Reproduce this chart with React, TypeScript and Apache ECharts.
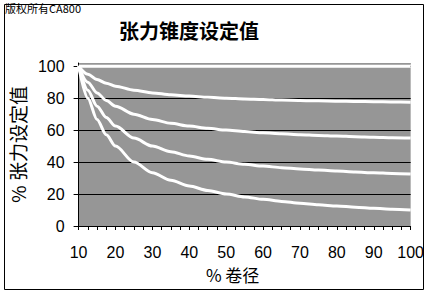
import React, { useEffect, useRef } from "react";
import * as echarts from "echarts";

const TITLE = "张力锥度设定值";
const COPYRIGHT = "版权所有CA800";
const X_NAME = "% 卷径";
const Y_NAME = "% 张力设定值";

const diameter = [10, 12.5, 15, 17.5, 20, 25, 30, 35, 40, 45, 50, 55, 60, 65, 70, 75, 80, 85, 90, 95, 100];
const taper0 = [100, 100, 100, 100, 100, 100, 100, 100, 100, 100, 100, 100, 100, 100, 100, 100, 100, 100, 100, 100, 100];
const taper25 = [100, 95, 91.7, 89.3, 87.5, 85, 83.3, 82.1, 81.3, 80.6, 80, 79.5, 79.2, 78.8, 78.6, 78.3, 78.1, 77.9, 77.8, 77.6, 77.5];
const taper50 = [100, 90, 83.3, 78.6, 75, 70, 66.7, 64.3, 62.5, 61.1, 60, 59.1, 58.3, 57.7, 57.1, 56.7, 56.3, 55.9, 55.6, 55.3, 55];
const taper75 = [100, 85, 75, 67.9, 62.5, 55, 50, 46.4, 43.8, 41.7, 40, 38.6, 37.5, 36.5, 35.7, 35, 34.4, 33.8, 33.3, 32.9, 32.5];
const taper100 = [100, 80, 66.7, 57.1, 50, 40, 33.3, 28.6, 25, 22.2, 20, 18.2, 16.7, 15.4, 14.3, 13.3, 12.5, 11.8, 11.1, 10.5, 10];

const seriesList = [taper0, taper25, taper50, taper75, taper100];

export default function App() {
  const ref = useRef<HTMLDivElement>(null);
  useEffect(() => {
    if (!ref.current) return;
    const chart = echarts.init(ref.current, null, { renderer: "svg" });
    const font = "'Liberation Sans', Arial, 'Noto Sans CJK SC', sans-serif";
    const cjk = "'Noto Sans CJK SC', 'Liberation Sans', sans-serif";
    chart.setOption({
      animation: false,
      backgroundColor: "#ffffff",
      title: {
        text: TITLE,
        left: 114,
        top: 15,
        textStyle: { fontFamily: cjk, fontSize: 20, fontWeight: "bold", color: "#000" },
      },
      graphic: [
        {
          type: "rect",
          shape: { x: 4.5, y: 4.5, width: 419, height: 285 },
          style: { fill: "none", stroke: "#000", lineWidth: 1 },
          silent: true,
        },
        {
          type: "text",
          left: 5,
          top: 2,
          style: { text: COPYRIGHT, fontFamily: cjk, fontSize: 11, fill: "#000" },
        },
      ],
      grid: {
        left: 77,
        right: 14,
        top: 63,
        bottom: 68,
        show: true,
        backgroundColor: "#969696",
        borderWidth: 0,
      },
      xAxis: {
        type: "value",
        min: 10,
        max: 100,
        interval: 10,
        name: X_NAME,
        nameLocation: "middle",
        nameGap: 40,
        nameTextStyle: { fontFamily: cjk, fontSize: 17, color: "#000", padding: [0, 24, 0, 0] },
        axisLine: { lineStyle: { color: "#000", width: 1 } },
        axisTick: { show: true, length: 4, lineStyle: { color: "#000" } },
        minorTick: { show: true, splitNumber: 4, length: 4, lineStyle: { color: "#000" } },
        axisLabel: { margin: 18, fontFamily: font, fontSize: 16, color: "#000" },
        splitLine: { show: false },
      },
      yAxis: {
        type: "value",
        min: 0,
        max: 102,
        interval: 20,
        name: Y_NAME,
        nameLocation: "middle",
        nameGap: 40,
        nameTextStyle: { fontFamily: cjk, fontSize: 19, color: "#000" },
        axisLine: { show: true, lineStyle: { color: "#000", width: 1 } },
        axisTick: { show: true, length: 5, lineStyle: { color: "#000" } },
        axisLabel: { margin: 14, fontFamily: font, fontSize: 16, color: "#000", showMaxLabel: false },
        splitLine: {
          show: true,
          lineStyle: { color: ["#000", "#000", "#000", "#000", "#000", "#000", "#969696"], width: 1 },
        },
      },
      series: seriesList.map((vals, k) => ({
        type: "line",
        data: diameter.map((d, i) => [d, vals[i]]),
        showSymbol: false,
        smooth: k === 0 ? false : 0.3,
        smoothMonotone: "x",
        z: 5,
        lineStyle: { color: "#ffffff", width: 3 },
        silent: true,
      })),
    });
    return () => chart.dispose();
  }, []);
  return (
    <div
      ref={ref}
      style={{ position: "fixed", left: 0, top: 0, width: 427, height: 294 }}
    />
  );
}
